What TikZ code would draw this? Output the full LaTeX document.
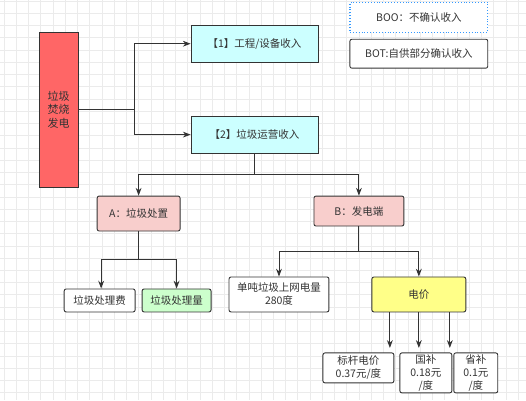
\documentclass[tikz,border=0pt]{standalone}
\usepackage{fontspec}
\setmainfont{Noto Sans CJK SC}
\usetikzlibrary{arrows.meta}
\definecolor{redbox}{HTML}{FF6666}
\definecolor{cyanbox}{HTML}{CCFFFF}
\definecolor{pinkbox}{HTML}{F8CECC}
\definecolor{greenbox}{HTML}{CCFFCC}
\definecolor{yellowbox}{HTML}{FFFF88}
\definecolor{dotblue}{HTML}{3399FF}
\definecolor{linegray}{HTML}{333333}

\begin{document}
\begin{tikzpicture}[%
  x=1pt, y=-1pt,
  >={Stealth[scale=1.1]},
  box/.style={draw=linegray, line width=0.9pt, align=center, inner sep=1pt,
    font=\fontsize{10.5}{13}\selectfont, text=black!80},
  rbox/.style={box, rounded corners=2pt},
  link/.style={draw=linegray, line width=0.9pt},
]

  % background and grid
  \fill[white] (0,0) rectangle (526,400);
  \foreach \i in {0,...,42}
    \draw[black!8, line width=0.5pt] (3.75+12.25*\i,0) -- (3.75+12.25*\i,400);
  \foreach \j in {0,...,32}
    \draw[black!8, line width=0.5pt] (0,0.75+12.25*\j) -- (526,0.75+12.25*\j);
  \useasboundingbox (0,0) rectangle (526,400);

  % boxes
  \node[box, fill=redbox, minimum width=39pt, minimum height=155pt, font=\fontsize{11}{13.5}\selectfont] (plant) at (58.5,109.5) {垃圾\\焚烧\\发电};
  \node[box, fill=cyanbox, minimum width=127pt, minimum height=37pt] (inc1) at (254.5,43.5) {【1】工程/设备收入};
  \node[box, fill=cyanbox, minimum width=127pt, minimum height=37pt] (inc2) at (254.5,134.5) {【2】垃圾运营收入};

  \node[rbox, fill=pinkbox, minimum width=83pt, minimum height=35pt] (dispose) at (138.5,213.5) {A：垃圾处置};
  \node[rbox, fill=pinkbox, minimum width=90pt, minimum height=30pt] (power) at (359,211) {B：发电端};

  \node[rbox, fill=white, minimum width=71pt, minimum height=23pt] (fee) at (99.5,300.5) {垃圾处理费};
  \node[rbox, fill=greenbox, minimum width=69pt, minimum height=23pt] (amount) at (176.5,300.5) {垃圾处理量};
  \node[rbox, fill=white, minimum width=100pt, minimum height=35pt] (grid) at (279,294.5) {单吨垃圾上网电量\\280度};
  \node[rbox, fill=yellowbox, minimum width=94pt, minimum height=35pt] (price) at (419,294.5) {电价};

  \node[rbox, fill=white, minimum width=71pt, minimum height=30pt] (bench) at (358.5,368) {标杆电价\\0.37元/度};
  \node[rbox, fill=white, minimum width=52pt, minimum height=40pt] (nat) at (426,373) {国补\\0.18元\\/度};
  \node[rbox, fill=white, minimum width=44pt, minimum height=40pt] (prov) at (476,373) {省补\\0.1元\\/度};

  \node[box, draw=dotblue, dotted, line width=1.2pt, fill=white, minimum width=138pt, minimum height=30pt] (boo) at (419,17) {BOO：不确认收入};
  \node[rbox, fill=white, minimum width=138pt, minimum height=29pt] (bot) at (419,53.5) {BOT:自供部分确认收入};

  % junctions
  \coordinate (j0) at (134,109.5);
  \coordinate (j1) at (254.5,174);
  \coordinate (j2) at (138.5,259);
  \coordinate (j3) at (359,251);
  \coordinate (t1) at (390,348);
  \coordinate (t2) at (419,348);
  \coordinate (t3) at (450,348);

  % connectors
  \draw[link,->] (plant.east) -- (j0) |- (inc1.west);
  \draw[link,->] (j0) |- (inc2.west);
  \draw[link,->] (inc2.south) -- (j1) -| (dispose.north);
  \draw[link,->] (j1) -| (power.north);
  \draw[link,->] (dispose.south) -- (j2) -| ([xshift=1.5pt]fee.north);
  \draw[link,->] (j2) -| (amount.north);
  \draw[link,->] (power.south) -- (j3) -| (grid.north);
  \draw[link,->] (j3) -| (price.north);
  \draw[link,->] (t1 |- price.south) -- (t1);
  \draw[link,->] (t2 |- price.south) -- (t2);
  \draw[link,->] (t3 |- price.south) -- (t3);

\end{tikzpicture}
\end{document}
